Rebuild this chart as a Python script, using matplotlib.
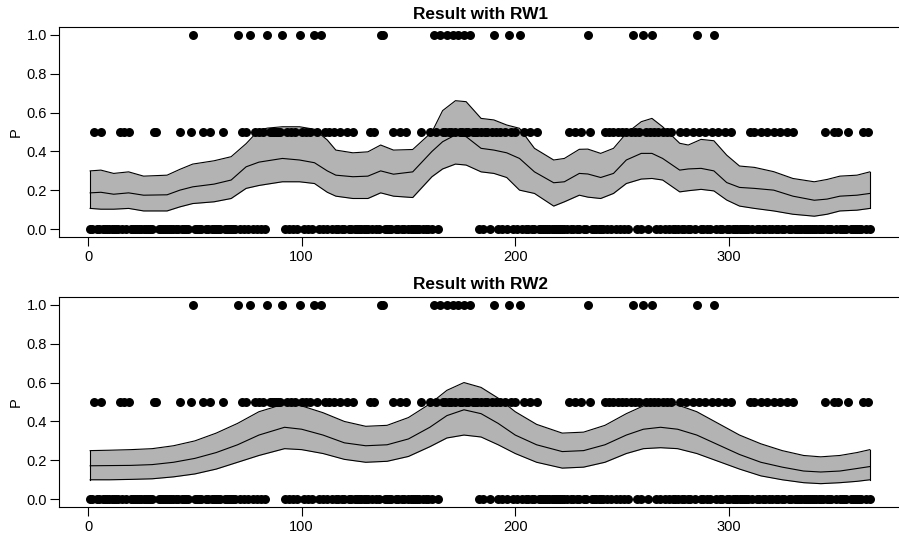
import numpy as np
import matplotlib
matplotlib.use('Agg')
import matplotlib.pyplot as plt

plt.rcParams['font.family'] = ['Liberation Sans', 'DejaVu Sans']

# days with proportion 1.0 and 0.5 (all other days are 0.0)
days_one = [49, 70, 76, 84, 91, 99, 106, 109, 137, 138, 162, 165, 168, 171, 173,
            176, 179, 190, 197, 202, 234, 255, 260, 264, 285, 293]
days_half = [3, 6, 15, 17, 19, 31, 32, 43, 48, 54, 57, 63,
             72, 74, 78, 80, 82, 85, 86, 87, 88, 89, 90, 93, 95, 97, 100, 102, 104,
             107, 111, 113, 115, 118, 121, 124, 132, 134, 143, 146, 149, 156, 160, 163,
             166, 167, 169, 170, 172, 174, 175, 177, 178, 180, 181, 182, 184, 186, 187,
             189, 191, 193, 195, 198, 200, 204, 207, 210, 225, 228, 231, 235,
             242, 244, 246, 248, 250, 252, 254, 256, 258, 261, 263, 265, 267, 269, 271, 273,
             277, 280, 283, 286, 289, 292, 295, 298, 301, 310, 312, 315, 318, 321, 324,
             327, 330, 345, 349, 351, 356, 363, 365]

# RW1 fit (day, lower, mean, upper)
rw1_day = [1, 6, 12, 19, 26, 37, 43, 49, 59, 67, 74, 80, 84, 91, 99, 106, 112, 116,
           124, 131, 137, 143, 152, 161, 166, 172, 177, 184, 190, 196, 202, 209, 218,
           223, 230, 234, 240, 246, 252, 259, 264, 269, 277, 281, 287, 293, 299, 305,
           312, 321, 330, 340, 346, 352, 360, 366]
rw1_mean = [0.187, 0.19, 0.18, 0.187, 0.175, 0.177, 0.201, 0.218, 0.232, 0.253,
            0.321, 0.345, 0.352, 0.364, 0.356, 0.342, 0.30, 0.278, 0.27, 0.273, 0.30,
            0.283, 0.295, 0.40, 0.45, 0.485, 0.476, 0.416, 0.407, 0.393, 0.364, 0.295,
            0.239, 0.244, 0.287, 0.284, 0.266, 0.287, 0.356, 0.39, 0.39, 0.364, 0.304,
            0.31, 0.313, 0.30, 0.24, 0.215, 0.21, 0.201, 0.17, 0.149, 0.155, 0.17,
            0.175, 0.184]
rw1_lower = [0.107, 0.103, 0.103, 0.107, 0.094, 0.094, 0.115, 0.132, 0.141, 0.158,
             0.21, 0.225, 0.232, 0.244, 0.244, 0.235, 0.19, 0.17, 0.158, 0.158, 0.187,
             0.17, 0.163, 0.27, 0.31, 0.335, 0.33, 0.295, 0.287, 0.266, 0.201, 0.184,
             0.119, 0.141, 0.175, 0.165, 0.158, 0.184, 0.235, 0.258, 0.261, 0.253, 0.192,
             0.198, 0.205, 0.197, 0.15, 0.119, 0.107, 0.094, 0.077, 0.067, 0.077, 0.094,
             0.098, 0.107]
rw1_upper = [0.30, 0.304, 0.287, 0.295, 0.273, 0.278, 0.308, 0.335, 0.352, 0.373,
             0.44, 0.51, 0.52, 0.527, 0.527, 0.514, 0.459, 0.407, 0.393, 0.398, 0.433,
             0.407, 0.41, 0.50, 0.61, 0.661, 0.656, 0.57, 0.562, 0.536, 0.519, 0.416,
             0.356, 0.364, 0.411, 0.412, 0.39, 0.416, 0.493, 0.553, 0.57, 0.527, 0.442,
             0.433, 0.462, 0.455, 0.381, 0.325, 0.318, 0.296, 0.261, 0.244, 0.256, 0.273,
             0.278, 0.295]

# RW2 fit
rw2_day = [1, 10, 20, 30, 40, 50, 60, 70, 80, 92, 100, 110, 120, 130, 140, 150, 160,
           168, 176, 184, 192, 200, 210, 222, 232, 242, 252, 260, 268, 276, 285, 295,
           305, 315, 325, 335, 343, 352, 360, 366]
rw2_mean = [0.172, 0.173, 0.174, 0.178, 0.19, 0.21, 0.24, 0.28, 0.33, 0.37, 0.36,
            0.33, 0.29, 0.275, 0.28, 0.31, 0.37, 0.43, 0.46, 0.44, 0.39, 0.33, 0.28,
            0.245, 0.25, 0.28, 0.33, 0.36, 0.37, 0.36, 0.33, 0.28, 0.23, 0.19, 0.165,
            0.145, 0.14, 0.145, 0.158, 0.168]
rw2_upper = [0.25, 0.252, 0.255, 0.26, 0.275, 0.30, 0.34, 0.39, 0.45, 0.49, 0.48,
             0.445, 0.40, 0.375, 0.38, 0.42, 0.49, 0.56, 0.60, 0.575, 0.52, 0.45, 0.385,
             0.34, 0.345, 0.38, 0.44, 0.48, 0.495, 0.485, 0.45, 0.39, 0.33, 0.285, 0.25,
             0.225, 0.218, 0.225, 0.24, 0.255]
rw2_lower = [0.10, 0.10, 0.102, 0.105, 0.115, 0.13, 0.155, 0.19, 0.225, 0.26, 0.255,
             0.235, 0.205, 0.19, 0.195, 0.22, 0.27, 0.315, 0.33, 0.32, 0.28, 0.235, 0.19,
             0.16, 0.165, 0.19, 0.235, 0.26, 0.265, 0.26, 0.235, 0.195, 0.155, 0.12, 0.10,
             0.085, 0.08, 0.085, 0.092, 0.10]

days = np.arange(1, 367)
prop = np.zeros(366)
prop[np.array(days_half) - 1] = 0.5
prop[np.array(days_one) - 1] = 1.0

fig = plt.figure(figsize=(8.99, 5.37), dpi=100)
ax1 = fig.add_axes([59/899, 1-237/537, 842/899, 210/537])
ax2 = fig.add_axes([59/899, 1-507/537, 842/899, 210/537])

panels = [(ax1, 'Result with RW1', rw1_day, rw1_lower, rw1_mean, rw1_upper),
          (ax2, 'Result with RW2', rw2_day, rw2_lower, rw2_mean, rw2_upper)]

for ax, title, d, lo, mu, hi in panels:
    ax.fill_between(d, lo, hi, color='#b3b3b3', lw=0, zorder=1)
    ax.plot(d, lo, color='black', lw=0.8, zorder=2)
    ax.plot(d, hi, color='black', lw=0.8, zorder=2)
    ax.plot(d, mu, color='black', lw=0.8, zorder=2)
    ax.plot([d[0], d[0]], [lo[0], hi[0]], color='black', lw=0.8)
    ax.plot([d[-1], d[-1]], [lo[-1], hi[-1]], color='black', lw=0.8)
    ax.scatter(days, prop, s=42, color='black', lw=0, zorder=3)
    ax.set_xlim(-13.6, 380.6)
    ax.set_ylim(-0.04, 1.04)
    ax.set_xticks([0, 100, 200, 300])
    ax.set_yticks([0.0, 0.2, 0.4, 0.6, 0.8, 1.0])
    ax.set_yticklabels(['0.0', '0.2', '0.4', '0.6', '0.8', '1.0'])
    ax.tick_params(labelsize=10.5, length=6.5, width=0.8)
    ax.tick_params(axis='x', pad=3)
    ax.tick_params(axis='y', pad=2)
    ax.set_ylabel('P', fontsize=10.5, labelpad=3)
    ax.set_title(title, fontsize=12.4, fontweight='bold', pad=6)
    for s in ax.spines.values():
        s.set_linewidth(0.8)

fig.savefig('out.png', dpi=100)
